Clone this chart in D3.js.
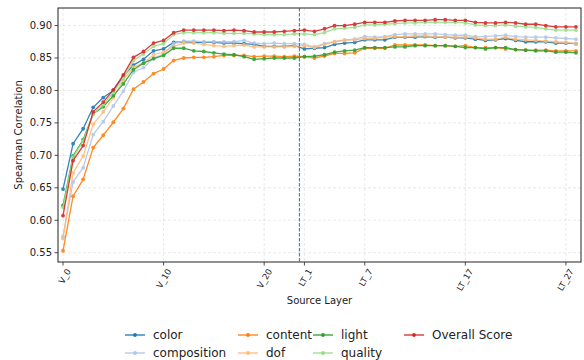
<!DOCTYPE html>
<html>
<head>
<meta charset="utf-8">
<script src="https://cdn.jsdelivr.net/npm/d3@7"></script>
<style>
  body { margin: 0; background: #fff; }
  svg { display: block; font-family: "DejaVu Sans", sans-serif; }
</style>
</head>
<body>
<div id="chart"></div>
<script>
// Source layers (x categories)
const layers = [
  'V_0','V_1','V_2','V_3','V_4','V_5','V_6','V_7','V_8','V_9','V_10','V_11',
  'V_12','V_13','V_14','V_15','V_16','V_17','V_18','V_19','V_20','V_21','V_22','V_23',
  'LT_1','LT_2','LT_3','LT_4','LT_5','LT_6','LT_7','LT_8','LT_9','LT_10','LT_11','LT_12','LT_13','LT_14',
  'LT_15','LT_16','LT_17','LT_18','LT_19','LT_20','LT_21','LT_22','LT_23','LT_24','LT_25','LT_26','LT_27','LT_28'
];
const tickLabels = ['V_0', 'V_10', 'V_20', 'LT_1', 'LT_7', 'LT_17', 'LT_27'];
const yTicks = [0.55, 0.60, 0.65, 0.70, 0.75, 0.80, 0.85, 0.90];

const color = [
  0.648, 0.718, 0.741, 0.774, 0.789, 0.800, 0.822, 0.839, 0.848, 0.861, 0.864, 0.874,
  0.875, 0.874, 0.874, 0.874, 0.873, 0.873, 0.872, 0.871, 0.868, 0.868, 0.868, 0.869,
  0.864, 0.865, 0.866, 0.871, 0.873, 0.874, 0.878, 0.878, 0.878, 0.882, 0.882, 0.882, 0.883, 0.882,
  0.882, 0.881, 0.881, 0.879, 0.877, 0.878, 0.880, 0.877, 0.875, 0.875, 0.875, 0.873, 0.873, 0.872
];
const composition = [
  0.575, 0.659, 0.681, 0.732, 0.752, 0.776, 0.799, 0.828, 0.835, 0.850, 0.856, 0.872,
  0.876, 0.876, 0.875, 0.875, 0.875, 0.875, 0.877, 0.873, 0.872, 0.873, 0.872, 0.872,
  0.871, 0.867, 0.872, 0.875, 0.878, 0.879, 0.883, 0.882, 0.883, 0.886, 0.887, 0.887, 0.887, 0.887,
  0.886, 0.885, 0.885, 0.883, 0.883, 0.884, 0.885, 0.883, 0.882, 0.882, 0.882, 0.881, 0.880, 0.879
];
const content = [
  0.553, 0.637, 0.663, 0.712, 0.731, 0.751, 0.772, 0.802, 0.813, 0.826, 0.833, 0.846,
  0.850, 0.851, 0.851, 0.852, 0.854, 0.854, 0.854, 0.852, 0.853, 0.853, 0.852, 0.853,
  0.852, 0.850, 0.853, 0.857, 0.857, 0.858, 0.865, 0.865, 0.865, 0.870, 0.870, 0.870, 0.870, 0.869,
  0.869, 0.868, 0.869, 0.866, 0.866, 0.866, 0.864, 0.863, 0.862, 0.862, 0.862, 0.861, 0.861, 0.861
];
const dof = [
  0.572, 0.673, 0.699, 0.748, 0.767, 0.789, 0.816, 0.836, 0.842, 0.855, 0.859, 0.868,
  0.873, 0.873, 0.871, 0.869, 0.868, 0.869, 0.870, 0.867, 0.867, 0.867, 0.867, 0.868,
  0.869, 0.866, 0.871, 0.875, 0.877, 0.878, 0.880, 0.880, 0.882, 0.883, 0.883, 0.884, 0.884, 0.883,
  0.882, 0.882, 0.882, 0.881, 0.879, 0.879, 0.882, 0.879, 0.878, 0.877, 0.876, 0.875, 0.874, 0.872
];
const light = [
  0.623, 0.699, 0.724, 0.764, 0.775, 0.792, 0.810, 0.832, 0.842, 0.849, 0.854, 0.865,
  0.865, 0.861, 0.860, 0.858, 0.856, 0.855, 0.852, 0.848, 0.849, 0.850, 0.850, 0.850,
  0.852, 0.853, 0.855, 0.859, 0.861, 0.862, 0.866, 0.866, 0.866, 0.867, 0.867, 0.869, 0.869, 0.869,
  0.869, 0.868, 0.866, 0.866, 0.864, 0.866, 0.866, 0.863, 0.862, 0.861, 0.861, 0.859, 0.859, 0.858
];
const quality = [
  0.620, 0.697, 0.722, 0.764, 0.778, 0.797, 0.819, 0.846, 0.856, 0.868, 0.872, 0.886,
  0.889, 0.889, 0.889, 0.889, 0.888, 0.888, 0.888, 0.887, 0.886, 0.886, 0.886, 0.887,
  0.887, 0.886, 0.889, 0.895, 0.896, 0.897, 0.901, 0.901, 0.902, 0.903, 0.904, 0.904, 0.905, 0.905,
  0.905, 0.905, 0.904, 0.901, 0.900, 0.900, 0.901, 0.899, 0.898, 0.897, 0.895, 0.893, 0.893, 0.893
];
const overall = [
  0.607, 0.692, 0.715, 0.767, 0.782, 0.801, 0.824, 0.851, 0.860, 0.873, 0.877, 0.889,
  0.893, 0.893, 0.893, 0.893, 0.892, 0.893, 0.892, 0.890, 0.890, 0.890, 0.891, 0.892,
  0.893, 0.891, 0.895, 0.900, 0.900, 0.902, 0.905, 0.905, 0.905, 0.907, 0.908, 0.908, 0.908, 0.909,
  0.909, 0.908, 0.908, 0.905, 0.904, 0.904, 0.905, 0.904, 0.902, 0.902, 0.900, 0.898, 0.898, 0.898
];

const series = [
  { name: 'color', values: color, stroke: '#1f77b4' },
  { name: 'composition', values: composition, stroke: '#aec7e8' },
  { name: 'content', values: content, stroke: '#ff7f0e' },
  { name: 'dof', values: dof, stroke: '#ffbb78' },
  { name: 'light', values: light, stroke: '#2ca02c' },
  { name: 'quality', values: quality, stroke: '#98df8a' },
  { name: 'Overall Score', values: overall, stroke: '#d62728' }
];

const width = 584, height = 360;
const plot = { left: 58, right: 581, top: 8, bottom: 262 };

const svg = d3.select('#chart').append('svg')
  .attr('width', width)
  .attr('height', height);

const x = d3.scaleLinear().domain([-0.5, layers.length - 0.5]).range([plot.left, plot.right]);
const y = d3.scaleLinear().domain([0.5357, 0.927]).range([plot.bottom, plot.top]);
const xIndex = name => layers.indexOf(name);

// Grid
const grid = svg.append('g');
grid.selectAll('.gy').data(yTicks).join('line')
  .attr('x1', plot.left).attr('x2', plot.right)
  .attr('y1', d => y(d)).attr('y2', d => y(d))
  .attr('stroke', '#b0b0b0').attr('stroke-opacity', 0.35)
  .attr('stroke-dasharray', '3,2').attr('stroke-width', 0.8);
grid.selectAll('.gx').data(tickLabels).join('line')
  .attr('x1', d => x(xIndex(d))).attr('x2', d => x(xIndex(d)))
  .attr('y1', plot.top).attr('y2', plot.bottom)
  .attr('stroke', '#b0b0b0').attr('stroke-opacity', 0.35)
  .attr('stroke-dasharray', '3,2').attr('stroke-width', 0.8);

// Lines and markers
const line = d3.line().x((d, i) => x(i)).y(d => y(d));
series.forEach(s => {
  const g = svg.append('g').attr('opacity', 0.9);
  g.append('path')
    .attr('d', line(s.values))
    .attr('fill', 'none')
    .attr('stroke', s.stroke)
    .attr('stroke-width', 1.3);
  g.selectAll('circle').data(s.values).join('circle')
    .attr('cx', (d, i) => x(i))
    .attr('cy', d => y(d))
    .attr('r', 1.9)
    .attr('fill', s.stroke);
});

// Boundary between V and LT layers
svg.append('line')
  .attr('x1', x(xIndex('V_23') + 0.5)).attr('x2', x(xIndex('V_23') + 0.5))
  .attr('y1', plot.top).attr('y2', plot.bottom)
  .attr('stroke', '#1f77b4').attr('stroke-width', 1)
  .attr('stroke-dasharray', '3.5,1.5');

// Frame
svg.append('rect')
  .attr('x', plot.left).attr('y', plot.top)
  .attr('width', plot.right - plot.left).attr('height', plot.bottom - plot.top)
  .attr('fill', 'none').attr('stroke', '#222').attr('stroke-width', 1);

// Y axis ticks
const yAxis = svg.append('g');
yAxis.selectAll('line').data(yTicks).join('line')
  .attr('x1', plot.left - 3.5).attr('x2', plot.left)
  .attr('y1', d => y(d)).attr('y2', d => y(d))
  .attr('stroke', '#222').attr('stroke-width', 0.8);
yAxis.selectAll('text').data(yTicks).join('text')
  .attr('x', plot.left - 6).attr('y', d => y(d))
  .attr('dy', '0.35em')
  .attr('text-anchor', 'end')
  .attr('font-size', 10)
  .attr('fill', '#222')
  .text(d => d3.format('.2f')(d));

// X axis ticks
const xAxis = svg.append('g');
xAxis.selectAll('line').data(tickLabels).join('line')
  .attr('x1', d => x(xIndex(d))).attr('x2', d => x(xIndex(d)))
  .attr('y1', plot.bottom).attr('y2', plot.bottom + 3.5)
  .attr('stroke', '#222').attr('stroke-width', 0.8);
xAxis.selectAll('text').data(tickLabels).join('text')
  .attr('transform', d => `translate(${x(xIndex(d)) + 3},${plot.bottom + 6}) rotate(-60)`)
  .attr('text-anchor', 'end')
  .attr('dy', '0.7em')
  .attr('font-size', 8.5)
  .attr('fill', '#222')
  .text(d => d);

// Axis titles
svg.append('text')
  .attr('x', (plot.left + plot.right) / 2).attr('y', 304)
  .attr('text-anchor', 'middle')
  .attr('font-size', 10).attr('fill', '#222')
  .text('Source Layer');
svg.append('text')
  .attr('transform', `translate(18,${(plot.top + plot.bottom) / 2}) rotate(-90)`)
  .attr('text-anchor', 'middle')
  .attr('dy', '0.35em')
  .attr('font-size', 10).attr('fill', '#222')
  .text('Spearman Correlation');

// Legend: 4 columns, filled column-first
const colX = [125, 238, 313, 404];
const rowY = [335, 353];
const legend = svg.append('g');
series.forEach((s, i) => {
  const cx = colX[Math.floor(i / 2)];
  const cy = rowY[i % 2];
  const g = legend.append('g').attr('transform', `translate(${cx},${cy})`);
  g.append('line').attr('x1', 0).attr('x2', 20).attr('y1', 0).attr('y2', 0)
    .attr('stroke', s.stroke).attr('stroke-width', 1.3);
  g.append('circle').attr('cx', 10).attr('cy', 0).attr('r', 1.9).attr('fill', s.stroke);
  g.append('text').attr('x', 28).attr('y', 0).attr('dy', '0.35em')
    .attr('font-size', 12).attr('fill', '#222')
    .text(s.name);
});
</script>
</body>
</html>
